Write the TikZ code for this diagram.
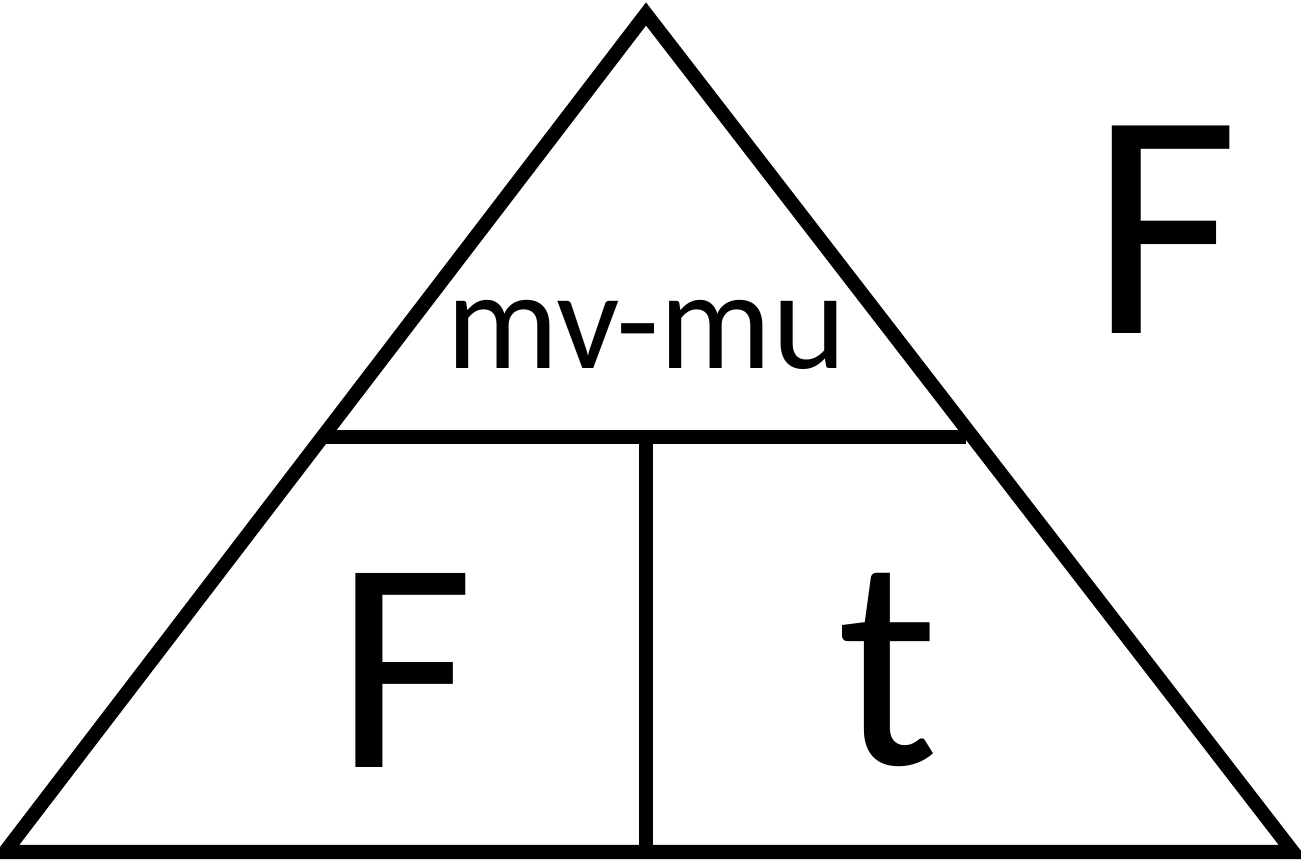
\documentclass[tikz,border=0pt]{standalone}
\usepackage{fontspec}
\setmainfont{Carlito}
\usepackage{tikz}

\begin{document}
\begin{tikzpicture}[x=0.01cm, y=-0.01cm, line join=miter]
  \useasboundingbox (0,0) rectangle (1301,862);
  \coordinate (apex) at (646,14);
  \coordinate (botleft) at (5,852);
  \coordinate (botright) at (1293,852);
  \coordinate (midleft) at (325,437);
  \coordinate (midright) at (966,437);
  \coordinate (midtop) at (646,437);
  \coordinate (midbot) at (646,852);
  \draw[line width=4pt] (apex) -- (botright) -- (botleft) -- cycle;
  \draw[line width=4pt] (midleft) -- (midright);
  \draw[line width=4pt] (midtop) -- (midbot);
  \node[font=\fontsize{40}{40}\selectfont, inner sep=0pt] (top) at (646,335) {mv-mu};
  \node[font=\fontsize{86}{86}\selectfont, inner sep=0pt] (force) at (405,670) {F};
  \node[font=\fontsize{86}{86}\selectfont, inner sep=0pt] (time) at (888,670) {t};
  \node[font=\fontsize{92}{92}\selectfont, inner sep=0pt] (label) at (1165,230) {F};
\end{tikzpicture}
\end{document}
